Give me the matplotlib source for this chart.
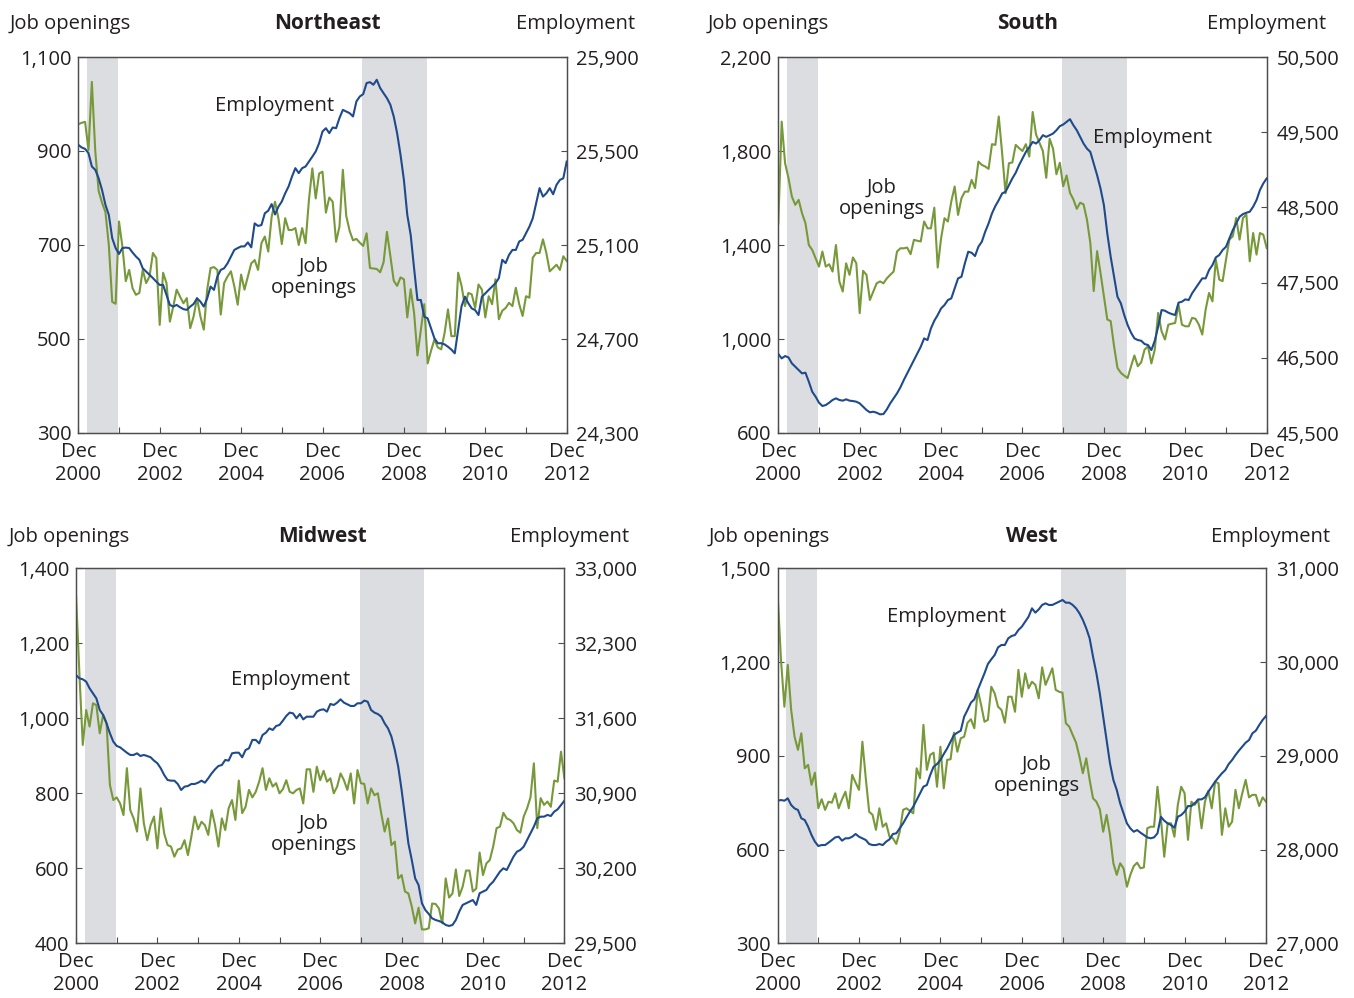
import numpy as np
import matplotlib
matplotlib.use('Agg')
import matplotlib.pyplot as plt
from matplotlib.ticker import FuncFormatter

plt.rcParams['font.family'] = ['Open Sans', 'DejaVu Sans']

# ---------------- data ----------------
# monthly, Dec 2000 (index 0) .. Dec 2012 (index 144); thousands
months = np.arange(145)
x_tick_pos = [0, 24, 48, 72, 96, 120, 144]
x_tick_labels = ['Dec\n2000', 'Dec\n2002', 'Dec\n2004', 'Dec\n2006', 'Dec\n2008', 'Dec\n2010', 'Dec\n2012']
x_minor_pos = [12, 36, 60, 84, 108, 132]
recessions = [(3, 11), (84, 102)]   # Mar 2001-Nov 2001, Dec 2007-Jun 2009

ne_jobs = [957, 960, 962, 902, 1047, 900, 815, 790, 770, 700,
           579, 575, 750, 697, 623, 647, 608, 594, 598, 647,
           619, 633, 683, 672, 530, 641, 619, 537, 569, 605,
           590, 576, 587, 523, 548, 587, 548, 520, 605, 651,
           653, 647, 552, 619, 633, 644, 612, 573, 637, 605,
           633, 661, 668, 647, 704, 718, 686, 760, 792, 757,
           702, 757, 732, 732, 736, 700, 736, 704, 796, 863,
           799, 852, 856, 769, 801, 792, 707, 739, 860, 762,
           730, 710, 713, 705, 698, 725, 651, 650, 649, 642,
           663, 728, 677, 624, 613, 631, 627, 546, 606, 556,
           465, 520, 574, 448, 475, 499, 482, 478, 513, 563,
           506, 506, 641, 613, 570, 598, 595, 566, 616, 605,
           546, 591, 574, 627, 542, 560, 566, 577, 570, 609,
           574, 549, 591, 588, 673, 683, 683, 712, 683, 644,
           651, 658, 647, 676, 666]
ne_emp = [25526, 25515, 25509, 25491, 25434, 25420, 25384, 25334, 25271, 25228,
          25129, 25087, 25062, 25087, 25089, 25087, 25068, 25051, 25037, 25001,
          24987, 24973, 24959, 24944, 24930, 24930, 24888, 24845, 24838, 24845,
          24835, 24827, 24824, 24838, 24849, 24873, 24859, 24838, 24873, 24923,
          24909, 24966, 24994, 25001, 25022, 25051, 25079, 25087, 25094, 25094,
          25111, 25090, 25192, 25181, 25185, 25235, 25246, 25274, 25230, 25263,
          25285, 25320, 25349, 25391, 25427, 25406, 25427, 25434, 25455, 25476,
          25498, 25533, 25583, 25597, 25576, 25600, 25597, 25640, 25675, 25668,
          25661, 25647, 25711, 25732, 25742, 25789, 25793, 25782, 25803, 25768,
          25746, 25725, 25697, 25647, 25576, 25484, 25377, 25228, 25143, 25001,
          24866, 24866, 24795, 24788, 24746, 24703, 24682, 24682, 24677, 24667,
          24655, 24639, 24740, 24840, 24880, 24852, 24830, 24823, 24802, 24880,
          24894, 24909, 24923, 24937, 24959, 25037, 25023, 25058, 25079, 25079,
          25115, 25122, 25150, 25178, 25214, 25278, 25342, 25306, 25320, 25342,
          25316, 25356, 25377, 25384, 25455]

south_jobs = [1492, 1925, 1748, 1685, 1606, 1571, 1592, 1535, 1493, 1400,
              1379, 1344, 1308, 1372, 1308, 1318, 1287, 1400, 1245, 1202,
              1322, 1273, 1347, 1322, 1110, 1290, 1273, 1166, 1202, 1237,
              1245, 1237, 1258, 1273, 1287, 1372, 1386, 1386, 1389, 1361,
              1422, 1418, 1415, 1500, 1471, 1471, 1559, 1304, 1429, 1514,
              1500, 1585, 1649, 1528, 1599, 1627, 1627, 1677, 1642, 1755,
              1741, 1734, 1724, 1829, 1826, 1947, 1790, 1620, 1748, 1751,
              1826, 1812, 1800, 1829, 1776, 1966, 1870, 1835, 1800, 1686,
              1852, 1810, 1701, 1750, 1650, 1696, 1622, 1594, 1554, 1580,
              1573, 1508, 1409, 1204, 1374, 1281, 1182, 1083, 1076, 969,
              877, 856, 844, 834, 884, 930, 884, 901, 955, 969,
              896, 955, 1111, 1033, 998, 1061, 1065, 1068, 1146, 1061,
              1054, 1054, 1090, 1086, 1061, 1019, 1125, 1196, 1160, 1338,
              1253, 1246, 1338, 1423, 1437, 1515, 1423, 1515, 1530, 1331,
              1451, 1359, 1451, 1444, 1387]
south_emp = [46550, 46492, 46523, 46505, 46426, 46381, 46337, 46293, 46302, 46182,
             46049, 45983, 45903, 45859, 45872, 45903, 45939, 45961, 45939, 45930,
             45948, 45930, 45925, 45916, 45894, 45850, 45806, 45775, 45783, 45770,
             45748, 45752, 45814, 45894, 45961, 46027, 46107, 46204, 46293, 46381,
             46470, 46559, 46647, 46758, 46736, 46891, 46993, 47069, 47157, 47202,
             47268, 47290, 47423, 47556, 47578, 47755, 47910, 47897, 47853, 47977,
             48043, 48176, 48287, 48420, 48518, 48597, 48686, 48708, 48797, 48885,
             48961, 49063, 49150, 49238, 49300, 49371, 49349, 49393, 49460, 49438,
             49460, 49482, 49526, 49580, 49602, 49637, 49673, 49593, 49526, 49438,
             49349, 49282, 49238, 49083, 48928, 48752, 48530, 48154, 47843, 47578,
             47312, 47224, 47069, 46936, 46834, 46758, 46736, 46727, 46683, 46670,
             46603, 46727, 46914, 47135, 47126, 47100, 47082, 47069, 47233, 47246,
             47277, 47268, 47357, 47423, 47490, 47556, 47556, 47667, 47733, 47835,
             47866, 47933, 47977, 48088, 48198, 48287, 48376, 48411, 48429, 48442,
             48509, 48597, 48730, 48819, 48885]

midwest_jobs = [1329, 1120, 929, 1022, 978, 1040, 1035, 960, 1009, 987,
                822, 782, 789, 773, 742, 867, 755, 733, 698, 813,
                720, 675, 715, 738, 653, 760, 693, 662, 658, 631,
                650, 653, 675, 635, 684, 738, 704, 724, 715, 689,
                755, 715, 658, 733, 702, 760, 782, 729, 834, 747,
                764, 809, 789, 804, 831, 867, 809, 840, 818, 827,
                800, 811, 835, 804, 800, 809, 813, 773, 864, 864,
                804, 871, 835, 860, 831, 840, 800, 818, 853, 835,
                809, 853, 773, 862, 827, 825, 773, 813, 795, 800,
                746, 698, 733, 662, 671, 573, 582, 538, 533, 498,
                453, 495, 437, 437, 440, 506, 505, 493, 453, 573,
                522, 533, 597, 526, 551, 594, 594, 538, 546, 642,
                582, 613, 622, 658, 707, 711, 748, 733, 729, 720,
                702, 695, 738, 760, 789, 880, 707, 787, 769, 778,
                764, 834, 831, 911, 840]
midwest_emp = [32004, 31973, 31964, 31942, 31880, 31833, 31786, 31678, 31631, 31553,
               31460, 31382, 31342, 31329, 31304, 31279, 31258, 31258, 31273, 31248,
               31258, 31248, 31236, 31205, 31180, 31133, 31071, 31024, 31018, 31018,
               30987, 30931, 30962, 30968, 30987, 30987, 30999, 31018, 30999, 31040,
               31086, 31124, 31155, 31164, 31211, 31205, 31273, 31279, 31279, 31236,
               31304, 31320, 31398, 31398, 31366, 31444, 31466, 31506, 31491, 31528,
               31538, 31578, 31622, 31653, 31646, 31600, 31640, 31590, 31615, 31615,
               31615, 31662, 31678, 31684, 31662, 31734, 31724, 31746, 31777, 31746,
               31730, 31715, 31715, 31740, 31740, 31765, 31755, 31678, 31653, 31640,
               31615, 31553, 31506, 31429, 31304, 31149, 30931, 30682, 30433, 30278,
               30106, 30044, 29873, 29811, 29774, 29733, 29718, 29708, 29696, 29671,
               29662, 29671, 29718, 29796, 29858, 29873, 29889, 29904, 29858, 29967,
               29982, 29998, 30044, 30075, 30122, 30169, 30200, 30184, 30246, 30309,
               30355, 30371, 30402, 30464, 30526, 30589, 30666, 30682, 30682, 30698,
               30688, 30729, 30750, 30791, 30831]

west_jobs = [1420, 1207, 1057, 1191, 1047, 961, 919, 972, 860, 871,
             807, 846, 732, 761, 727, 753, 750, 780, 732, 761,
             785, 732, 839, 814, 791, 945, 828, 721, 711, 663,
             732, 673, 684, 641, 636, 618, 657, 727, 732, 724,
             716, 860, 828, 999, 855, 903, 910, 801, 929, 796,
             887, 889, 974, 913, 956, 961, 1006, 1017, 988, 1111,
             1063, 1009, 1015, 1121, 1100, 1057, 1047, 1006, 1089, 1089,
             1041, 1175, 1089, 1164, 1116, 1137, 1127, 1084, 1183, 1127,
             1153, 1180, 1111, 1105, 1102, 1004, 993, 967, 942, 897,
             844, 892, 823, 764, 753, 729, 657, 711, 647, 556,
             519, 556, 540, 481, 519, 547, 558, 540, 543, 668,
             673, 673, 801, 700, 577, 684, 684, 641, 743, 801,
             780, 631, 753, 743, 759, 668, 753, 788, 732, 817,
             812, 647, 732, 673, 689, 791, 732, 780, 823, 767,
             775, 775, 739, 767, 753]
west_emp = [28521, 28528, 28521, 28546, 28475, 28439, 28422, 28333, 28315, 28244,
            28155, 28084, 28038, 28048, 28048, 28073, 28102, 28130, 28137, 28095,
            28120, 28120, 28137, 28166, 28137, 28120, 28102, 28059, 28048, 28048,
            28059, 28048, 28084, 28109, 28166, 28173, 28226, 28279, 28343, 28404,
            28457, 28528, 28599, 28671, 28688, 28795, 28884, 28912, 28955, 29019,
            29079, 29151, 29222, 29247, 29268, 29417, 29489, 29567, 29602, 29702,
            29791, 29880, 29979, 30029, 30075, 30157, 30182, 30182, 30253, 30278,
            30289, 30342, 30377, 30431, 30484, 30573, 30527, 30562, 30609, 30626,
            30609, 30609, 30626, 30644, 30662, 30633, 30633, 30609, 30573, 30520,
            30449, 30360, 30253, 30057, 29880, 29666, 29417, 29168, 28919, 28742,
            28635, 28493, 28386, 28279, 28226, 28190, 28208, 28180, 28155, 28130,
            28120, 28130, 28173, 28350, 28308, 28279, 28262, 28233, 28350, 28368,
            28404, 28464, 28464, 28493, 28535, 28535, 28557, 28617, 28671, 28724,
            28770, 28813, 28848, 28912, 28955, 29008, 29055, 29097, 29140, 29168,
            29240, 29268, 29328, 29382, 29424]

# ---------------- style ----------------
W, H = 1354, 998
GREEN = '#77993a'
BLUE = '#1f4a8c'
SHADE = '#dcdde0'
TXT = '#231f20'
SPINE = '#4d4d4f'
FS = 14.5

fig = plt.figure(figsize=(W / 100, H / 100), dpi=100)


def fx(x):
    return x / W


def fy(y):
    return 1 - y / H


comma = FuncFormatter(lambda v, p: f'{int(round(v)):,}')

panels = [
    dict(title='Northeast', box=(78.3, 57, 566.7, 433), jobs=ne_jobs, emp=ne_emp,
         jlim=(300, 1100), jstep=200, elim=(24300, 25900), estep=400,
         hdr=(10, 327, 635, 29), emp_lab=(275, 104), job_lab=(314, 277)),
    dict(title='South', box=(778.3, 57, 1266.7, 433), jobs=south_jobs, emp=south_emp,
         jlim=(600, 2200), jstep=400, elim=(45500, 50500), estep=1000,
         hdr=(708, 1028, 1326, 29), emp_lab=(1153, 136), job_lab=(882, 198)),
    dict(title='Midwest', box=(76, 568.3, 564.4, 943.3), jobs=midwest_jobs, emp=midwest_emp,
         jlim=(400, 1400), jstep=200, elim=(29500, 33000), estep=700,
         hdr=(9, 323, 629, 542), emp_lab=(291, 678), job_lab=(314, 834)),
    dict(title='West', box=(777.6, 568.3, 1266.0, 943.3), jobs=west_jobs, emp=west_emp,
         jlim=(300, 1500), jstep=300, elim=(27000, 31000), estep=1000,
         hdr=(709, 1032, 1330, 542), emp_lab=(947, 615), job_lab=(1037, 775)),
]

for p in panels:
    l, t, r, b = p['box']
    ax = fig.add_axes([fx(l), fy(b), (r - l) / W, (b - t) / H])
    ax2 = ax.twinx()

    for s, e in recessions:
        ax.axvspan(s - 0.4, e + 0.7, color=SHADE, lw=0, zorder=0)

    ax.plot(months, p['jobs'], color=GREEN, lw=1.5, zorder=3)
    ax2.plot(months, p['emp'], color=BLUE, lw=1.5, zorder=3)

    ax.set_xlim(0, 144)
    ax.set_ylim(*p['jlim'])
    ax2.set_ylim(*p['elim'])
    ax.set_yticks(np.arange(p['jlim'][0], p['jlim'][1] + 1, p['jstep']))
    ax2.set_yticks(np.arange(p['elim'][0], p['elim'][1] + 1, p['estep']))
    ax.yaxis.set_major_formatter(comma)
    ax2.yaxis.set_major_formatter(comma)
    ax.set_xticks(x_tick_pos)
    ax.set_xticklabels(x_tick_labels, linespacing=1.2)
    ax.set_xticks(x_minor_pos, minor=True)

    for a in (ax, ax2):
        a.tick_params(axis='both', which='both', direction='in', length=4, width=0.8,
                      color=SPINE, labelsize=FS, labelcolor=TXT)
        for sp in a.spines.values():
            sp.set_color(SPINE)
            sp.set_linewidth(0.9)
    ax.tick_params(axis='y', pad=5)
    ax2.tick_params(axis='y', pad=7)
    ax.tick_params(axis='x', pad=6.5)

    xl, xc, xr, yb = p['hdr']
    fig.text(fx(xl), fy(yb), 'Job openings', fontsize=FS, color=TXT, ha='left', va='baseline')
    fig.text(fx(xc), fy(yb), p['title'], fontsize=FS + 0.5, color=TXT, ha='center', va='baseline',
             fontweight='bold')
    fig.text(fx(xr), fy(yb), 'Employment', fontsize=FS, color=TXT, ha='right', va='baseline')

    ex, ey = p['emp_lab']
    fig.text(fx(ex), fy(ey + 7), 'Employment', fontsize=FS, color=TXT, ha='center', va='baseline')
    jx, jy = p['job_lab']
    fig.text(fx(jx), fy(jy), 'Job\nopenings', fontsize=FS, color=TXT, ha='center', va='center',
             linespacing=1.1)

fig.savefig('out.png', dpi=100)
